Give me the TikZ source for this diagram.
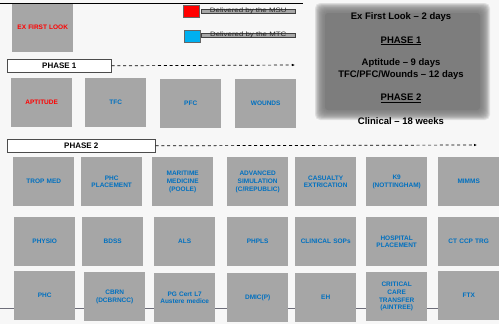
\documentclass[tikz,border=0pt]{standalone}
\usepackage{fontspec}
\setmainfont{Liberation Sans}
\usetikzlibrary{positioning,arrows.meta}
\definecolor{fundo}{RGB}{247,247,247}
\definecolor{caixa}{RGB}{166,166,166}
\definecolor{azul}{RGB}{0,112,192}
\definecolor{escuro}{RGB}{125,125,125}
\definecolor{linha}{RGB}{110,110,122}
\definecolor{ciano}{RGB}{0,176,240}

\begin{document}
\begin{tikzpicture}[x=1pt,y=-1pt,
    bloco/.style={fill=caixa, minimum width=61pt, minimum height=49pt, inner sep=1pt,
      text width=58pt, align=center, anchor=north west, text=azul,
      font=\fontsize{6.5}{7.8}\selectfont\bfseries},
    fase/.style={draw=black!70, fill=white, line width=0.6pt, minimum height=13pt,
      inner sep=0pt, anchor=north west, font=\fontsize{8}{9}\selectfont\bfseries},
    seta/.style={line width=0.7pt, dash pattern=on 3pt off 2.8pt, -{Latex[length=3pt,width=2.5pt]}},
    quadrado/.style={draw=black!60, line width=0.6pt, minimum width=16pt, minimum height=12pt,
      inner sep=0pt, anchor=north west},
    barra/.style={draw=black!75, fill=black!35, line width=0.5pt, minimum width=94pt,
      minimum height=4pt, inner sep=0pt, anchor=north west},
    legenda/.style={text=black!85, inner sep=0pt, font=\fontsize{7.5}{8}\selectfont}]

    \useasboundingbox[fill=fundo] (0,0) rectangle (499,324);

    % Linhas de fundo
    \coordinate (topoE) at (0,3);
    \coordinate (topoD) at (303,3);
    \coordinate (baseE) at (0,308);

    % Ex First Look
    \node[bloco, text=red] (exfl) at (12,3) {EX FIRST LOOK};
    \draw[line width=0.8pt] (topoE) -- (topoD);

    % Legenda
    \node[quadrado, fill=red] (qmsu) at (183,5) {};
    \node[barra] (bmsu) at (201,9) {};
    \node[legenda] (tmsu) at (bmsu.center) {\scalebox{1.05}[0.85]{Delivered by the MSU}};
    \node[quadrado, fill=ciano] (qmtc) at (184,30) {};
    \node[barra] (bmtc) at (201,33) {};
    \node[legenda] (tmtc) at (bmtc.center) {\scalebox{1.05}[0.85]{Delivered by the MTC}};

    % Resumo
    \foreach \i in {0,...,13}
        \fill[escuro, opacity=0.16, rounded corners=5pt] (315+0.7*\i,3+0.7*\i) rectangle (490-0.7*\i,120-0.7*\i);
    \fill[escuro, rounded corners=3pt] (325,13) rectangle (480,110);
    \node[anchor=north, align=center, inner sep=0pt, font=\fontsize{9.5}{12.5}\selectfont\bfseries]
        (resumo) at (401,12) {Ex First Look -- 2 days\\[11.5pt]
        \underline{PHASE 1}\\[9.5pt]
        Aptitude -- 9 days\\
        TFC/PFC/Wounds -- 12 days\\[10.5pt]
        \underline{PHASE 2}\\[11.5pt]
        Clinical -- 18 weeks};

    % Fase 1
    \node[fase, minimum width=104pt] (fase1) at (7,59) {PHASE 1};
    \coordinate (fim1) at (295,65);
    \draw[seta] (fase1.east) -- (fim1);
    \node[bloco, text=red] (apt) at (11,78) {APTITUDE};
    \node[bloco] (tfc) at (85,78) {TFC};
    \node[bloco] (pfc) at (160,79) {PFC};
    \node[bloco] (wounds) at (235,79) {WOUNDS};

    % Fase 2
    \node[fase, minimum width=148pt] (fase2) at (7,139) {PHASE 2};
    \coordinate (fim2) at (477,145);
    \draw[seta] (fase2.east) -- (fim2);

    \node[bloco] (trop) at (13,157) {TROP MED};
    \node[bloco] (phcpl) at (81,157) {PHC\\PLACEMENT};
    \node[bloco] (mar) at (152,157) {MARITIME\\MEDICINE\\(POOLE)};
    \node[bloco] (adv) at (227,157) {ADVANCED\\SIMULATION\\(C/REPUBLIC)};
    \node[bloco] (cas) at (295,157) {CASUALTY\\EXTRICATION};
    \node[bloco] (k9) at (366,157) {K9\\(NOTTINGHAM)};
    \node[bloco] (mimms) at (438,157) {MIMMS};

    \node[bloco] (physio) at (14,217) {PHYSIO};
    \node[bloco] (bdss) at (82,217) {BDSS};
    \node[bloco] (als) at (154,217) {ALS};
    \node[bloco] (phpls) at (227,217) {PHPLS};
    \node[bloco] (sops) at (295,217) {CLINICAL SOPs};
    \node[bloco] (hosp) at (366,217) {HOSPITAL\\PLACEMENT};
    \node[bloco] (ctccp) at (438,217) {CT CCP TRG};

    \draw[linha, line width=0.8pt] (baseE) -- (baseE -| 438,0);
    \node[bloco] (phc) at (14,271) {PHC};
    \node[bloco] (cbrn) at (84,272) {CBRN\\(DCBRNCC)};
    \node[bloco] (pgcert) at (154,273) {PG Cert L7\\Austere medice};
    \node[bloco] (dmic) at (227,273) {DMIC(P)};
    \node[bloco] (eh) at (295,273) {EH};
    \node[bloco] (crit) at (366,272) {CRITICAL\\CARE\\TRANSFER\\(AINTREE)};
    \node[bloco] (ftx) at (438,271) {FTX};
\end{tikzpicture}
\end{document}
